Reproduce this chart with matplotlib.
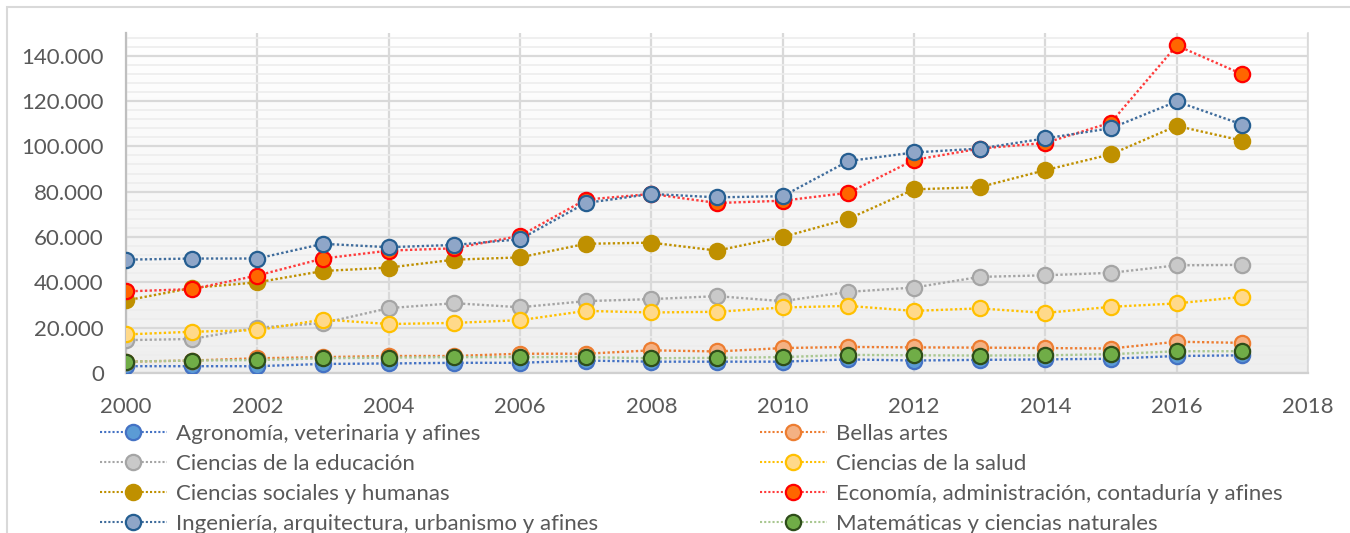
import matplotlib
matplotlib.use("Agg")
import matplotlib.pyplot as plt
import matplotlib.ticker as mticker
import matplotlib.patches as mpatches
import matplotlib.lines as mlines
import numpy as np

plt.rcParams["font.family"] = ["Lato", "DejaVu Sans"]

# ── Data ─────────────────────────────────────────────────────────────────────
years = list(range(2000, 2018))

agronomia   = [3000, 3000, 3000, 4000, 4200, 4500, 4500, 5500, 5000, 5000,
               5000, 6000, 5500, 5800, 6000, 6300, 7500, 7800]
bellas      = [5000, 5500, 6500, 7000, 7500, 7500, 8500, 8500, 10000, 9500,
               11000, 11500, 11300, 11200, 11000, 10800, 13800, 13300]
educacion   = [14500, 15000, 20000, 22000, 28600, 30800, 29000, 31700, 32600, 33900,
               31700, 35800, 37700, 42400, 43100, 44200, 47500, 47700]
salud       = [17000, 18200, 18900, 23600, 21600, 22100, 23300, 27400, 26700, 27000,
               28900, 29600, 27400, 28500, 26500, 29200, 30700, 33600]
sociales    = [32000, 37500, 40000, 45000, 46500, 50000, 51000, 57000, 57500, 54000,
               60000, 68000, 81000, 82000, 89500, 96500, 109000, 102500]
economia    = [36000, 37000, 43000, 50500, 54000, 55000, 60500, 76500, 79000, 75000,
               76000, 79500, 94000, 99000, 101500, 110500, 144500, 131800]
ingenieria  = [50000, 50500, 50500, 57000, 55500, 56500, 59000, 75000, 79000, 77500,
               78000, 93500, 97300, 99000, 103500, 108000, 119800, 109600]
matematicas = [5000, 5500, 5700, 6500, 6800, 7000, 7000, 7000, 6500, 6700,
               7000, 8000, 7800, 7700, 7800, 8300, 9600, 9600]

labels = [
    "Agronomía, veterinaria y afines",
    "Bellas artes",
    "Ciencias de la educación",
    "Ciencias de la salud",
    "Ciencias sociales y humanas",
    "Economía, administración, contaduría y afines",
    "Ingeniería, arquitectura, urbanismo y afines",
    "Matemáticas y ciencias naturales",
]
series = [agronomia, bellas, educacion, salud, sociales, economia, ingenieria, matematicas]

# (line colour, marker fill, marker edge)
styles = [
    ("#4472C4", "#5B9BD5", "#4472C4"),
    ("#ED7D31", "#F4B183", "#ED7D31"),
    ("#A5A5A5", "#C9C9C9", "#A5A5A5"),
    ("#FFC000", "#FFD98A", "#FFC000"),
    ("#BF9000", "#BF9000", "#BF9000"),
    ("#FF3B3B", "#FF6600", "#FF0000"),
    ("#3F6C9C", "#8FA6C8", "#255E91"),
    ("#A9C791", "#70AD47", "#2E4D1A"),
]

TXT = "#595959"

fig = plt.figure(figsize=(13.5, 5.33), dpi=100)
ax = fig.add_axes([126 / 1350, 160 / 533, 1182 / 1350, 340 / 533])

# outer chart frame
fig.patches.append(mpatches.Rectangle(
    (7 / 1350, -0.05), 1.2, 1 - 7 / 533 + 0.05, transform=fig.transFigure,
    fill=False, edgecolor="#D9D9D9", linewidth=1.5))

# gradient background
grad = np.linspace(0, 1, 256).reshape(-1, 1)
ax.imshow(grad, extent=[0, 1, 0, 1], transform=ax.transAxes, aspect="auto",
          cmap=matplotlib.colors.LinearSegmentedColormap.from_list(
              "bg", ["#EFEFEF", "#FFFFFF"]), origin="lower", zorder=0)

handles = []
for vals, lab, (lc, fc, ec) in zip(series, labels, styles):
    ax.plot(years, vals, linestyle=(0, (1, 1)), linewidth=1.7, color=lc,
            marker="o", markersize=11, markerfacecolor=fc,
            markeredgecolor=ec, markeredgewidth=1.6, zorder=3)
    handles.append(mlines.Line2D([], [], linestyle=(0, (1, 1)), linewidth=1.5,
                                 color=lc, marker="o", markersize=11,
                                 markerfacecolor=fc, markeredgecolor=ec,
                                 markeredgewidth=1.6, label=lab))

ax.set_xlim(2000, 2018)
ax.set_ylim(0, 150000)
ax.xaxis.set_major_locator(mticker.MultipleLocator(2))
ax.yaxis.set_major_locator(mticker.FixedLocator(np.arange(0, 140001, 20000)))
ax.yaxis.set_minor_locator(mticker.MultipleLocator(4000))
ax.yaxis.set_major_formatter(mticker.FuncFormatter(
    lambda v, _: f"{int(v):,}".replace(",", ".")))

ax.grid(True, which="major", axis="both", color="#D9D9D9", linewidth=1.6, zorder=1)
ax.grid(True, which="minor", axis="y", color="#EDEDED", linewidth=1.2, zorder=1)
ax.set_axisbelow(True)

ax.spines["top"].set_visible(False)
ax.spines["left"].set_color("#BFBFBF")
ax.spines["left"].set_linewidth(1.6)
ax.spines["bottom"].set_color("#D0D0D0")
ax.spines["bottom"].set_linewidth(1.6)
ax.spines["right"].set_color("#D9D9D9")
ax.spines["right"].set_linewidth(1.2)

ax.tick_params(axis="both", which="both", length=0, labelsize=16, colors=TXT)
ax.tick_params(axis="y", pad=16)
ax.tick_params(axis="x", pad=17)

# legend: two columns placed separately, row-wise order
kw = dict(frameon=False, fontsize=16, labelcolor=TXT, handlelength=3.0,
          handletextpad=0.4, labelspacing=0.45, borderaxespad=0, borderpad=0,
          loc="upper left")
fig.legend(handles=handles[0::2], bbox_to_anchor=(100 / 1350, 1 - 424 / 533), **kw)
fig.legend(handles=handles[1::2], bbox_to_anchor=(760 / 1350, 1 - 424 / 533), **kw)

fig.savefig("out.png", dpi=100)
